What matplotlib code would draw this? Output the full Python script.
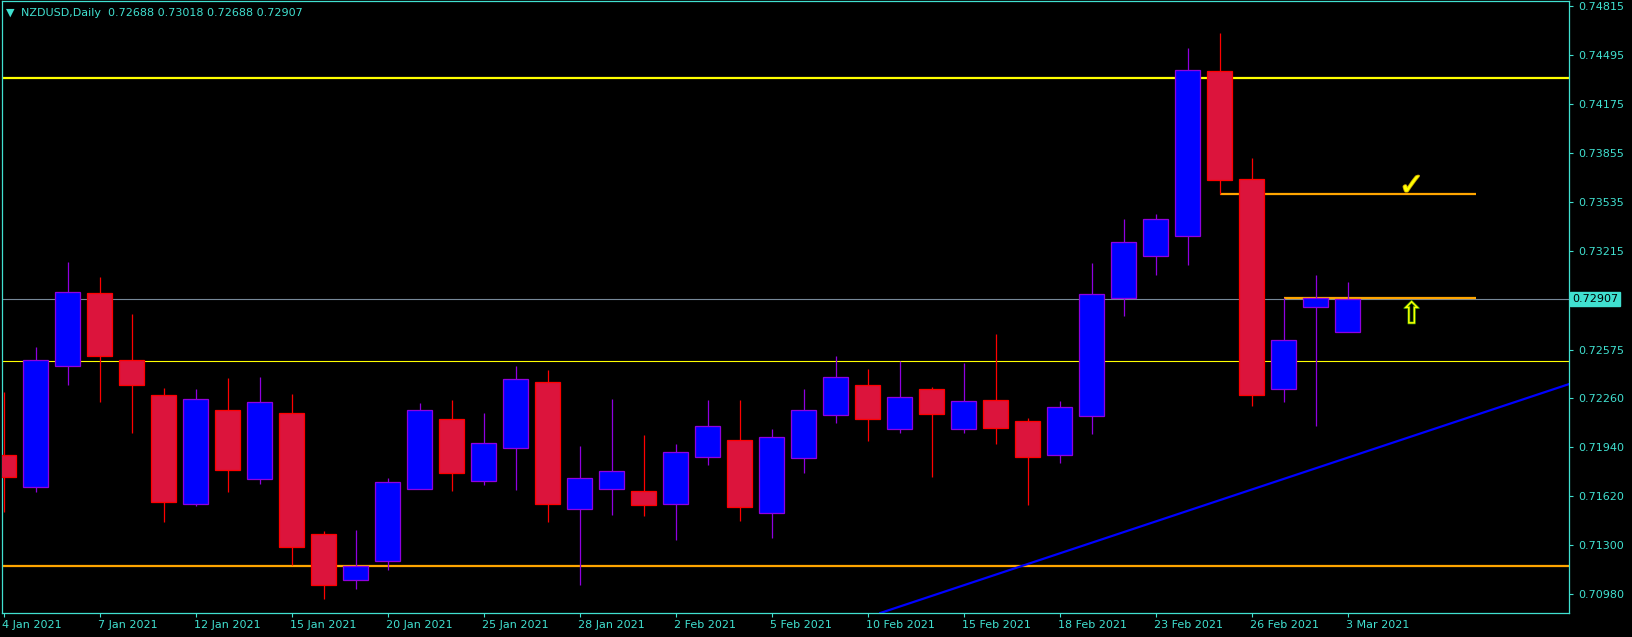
import matplotlib
matplotlib.use('Agg')
import matplotlib.pyplot as plt
import matplotlib.transforms as mtransforms
import matplotlib.patheffects as pe

# ---------------- data ----------------
dates = ['4 Jan 2021', '5 Jan 2021', '6 Jan 2021', '7 Jan 2021', '8 Jan 2021',
         '11 Jan 2021', '12 Jan 2021', '13 Jan 2021', '14 Jan 2021', '15 Jan 2021',
         '18 Jan 2021', '19 Jan 2021', '20 Jan 2021', '21 Jan 2021', '22 Jan 2021',
         '25 Jan 2021', '26 Jan 2021', '27 Jan 2021', '28 Jan 2021', '29 Jan 2021',
         '1 Feb 2021', '2 Feb 2021', '3 Feb 2021', '4 Feb 2021', '5 Feb 2021',
         '8 Feb 2021', '9 Feb 2021', '10 Feb 2021', '11 Feb 2021', '12 Feb 2021',
         '15 Feb 2021', '16 Feb 2021', '17 Feb 2021', '18 Feb 2021', '19 Feb 2021',
         '22 Feb 2021', '23 Feb 2021', '24 Feb 2021', '25 Feb 2021', '26 Feb 2021',
         '1 Mar 2021', '2 Mar 2021', '3 Mar 2021']

opens = [0.71888, 0.71681, 0.72466, 0.72942, 0.72505, 0.72277, 0.71567, 0.72179,
         0.71734, 0.72160, 0.71371, 0.71071, 0.71195, 0.71668, 0.72121, 0.71720,
         0.71936, 0.72362, 0.71538, 0.71668, 0.71651, 0.71567, 0.71873, 0.71984,
         0.71508, 0.71866, 0.72151, 0.72342, 0.72056, 0.72316, 0.72056, 0.72245,
         0.72108, 0.71890, 0.72144, 0.72910, 0.73183, 0.73314, 0.74389, 0.73685,
         0.72320, 0.72855, 0.72688]
highs = [0.72301, 0.72592, 0.73146, 0.73048, 0.72807, 0.72325, 0.72318, 0.72390,
         0.72397, 0.72286, 0.71393, 0.71399, 0.71738, 0.72227, 0.72247, 0.72162,
         0.72468, 0.72442, 0.71947, 0.72253, 0.72018, 0.71960, 0.72247, 0.72247,
         0.72058, 0.72318, 0.72533, 0.72449, 0.72501, 0.72331, 0.72488, 0.72677,
         0.72129, 0.72240, 0.73140, 0.73427, 0.73459, 0.74541, 0.74639, 0.73824,
         0.72913, 0.73061, 0.73018]
lows = [0.71518, 0.71649, 0.72346, 0.72236, 0.72033, 0.71453, 0.71558, 0.71649,
        0.71701, 0.71171, 0.70949, 0.71015, 0.71138, 0.71665, 0.71653, 0.71692,
        0.71660, 0.71451, 0.71041, 0.71497, 0.71490, 0.71334, 0.71823, 0.71458,
        0.71347, 0.71771, 0.72097, 0.71979, 0.72031, 0.71745, 0.72031, 0.71960,
        0.71562, 0.71836, 0.72027, 0.72796, 0.73061, 0.73127, 0.73591, 0.72207,
        0.72234, 0.72077, 0.72688]
closes = [0.71747, 0.72505, 0.72949, 0.72535, 0.72346, 0.71584, 0.72251, 0.71792,
          0.72232, 0.71290, 0.71043, 0.71164, 0.71710, 0.72179, 0.71773, 0.71964,
          0.72381, 0.71571, 0.71736, 0.71782, 0.71564, 0.71906, 0.72075, 0.71551,
          0.72003, 0.72179, 0.72394, 0.72125, 0.72264, 0.72157, 0.72238, 0.72066,
          0.71877, 0.72199, 0.72936, 0.73275, 0.73425, 0.74396, 0.73683, 0.72281,
          0.72636, 0.72913, 0.72907]

x_tick_labels = ['4 Jan 2021', '7 Jan 2021', '12 Jan 2021', '15 Jan 2021', '20 Jan 2021',
                 '25 Jan 2021', '28 Jan 2021', '2 Feb 2021', '5 Feb 2021', '10 Feb 2021',
                 '15 Feb 2021', '18 Feb 2021', '23 Feb 2021', '26 Feb 2021', '3 Mar 2021']
y_tick_values = [0.74815, 0.74495, 0.74175, 0.73855, 0.73535, 0.73215,
                 0.72575, 0.72260, 0.71940, 0.71620, 0.71300, 0.70980]

symbol = 'NZDUSD,Daily'
last_price = 0.72907
resistance_top = 0.74348
level_mid = 0.72500
support_low = 0.71164
seg_upper = 0.73591
seg_lower = 0.72913
trend_x = [27.4, 48.9]
trend_y = [0.70858, 0.72349]

# ---------------- style ----------------
BG = '#000000'
FG = '#40E0D0'
BULL_FILL = '#0000FF'
BULL_EDGE = '#9000E0'
BEAR_FILL = '#DC143C'
BEAR_EDGE = '#FF0000'

W, H = 1633, 637
fig = plt.figure(figsize=(W / 100, H / 100), dpi=100, facecolor=BG)
ax = fig.add_axes([2 / W, (H - 613) / H, (1569 - 2) / W, (613 - 1) / H])
ax.set_facecolor(BG)

n = len(dates)
xs = list(range(n))

# horizontal levels (behind candles)
ax.axhline(resistance_top, color='#FFFF00', lw=1.6, zorder=1)
ax.axhline(level_mid, color='#FFFF00', lw=0.8, zorder=1)
ax.axhline(support_low, color='#FFA500', lw=1.6, zorder=1)
ax.axhline(last_price, color='#778899', lw=0.8, zorder=1)
ax.plot([38, 46], [seg_upper, seg_upper], color='#FFA500', lw=1.6, zorder=1,
        solid_capstyle='butt')
ax.plot([40, 46], [seg_lower, seg_lower], color='#FFA500', lw=1.6, zorder=1.5,
        solid_capstyle='butt')
ax.plot(trend_x, trend_y, color='#0000FF', lw=1.6, zorder=1)

# candles
for i in xs:
    o, h, l, c = opens[i], highs[i], lows[i], closes[i]
    bull = c >= o
    edge = BULL_EDGE if bull else BEAR_EDGE
    fill = BULL_FILL if bull else BEAR_FILL
    ax.vlines(i, l, h, colors=edge, lw=0.9, zorder=2)
    ax.bar(i, abs(c - o), bottom=min(o, c), width=0.76, color=fill,
           edgecolor=edge, linewidth=0.9, zorder=3)

# annotation marks
ax.text(44.0, 0.73640, '\u2713', color='#FFFF00', fontsize=22, ha='center',
        va='center', fontweight='bold', zorder=4,
        path_effects=[pe.withStroke(linewidth=1.2, foreground='#C8A000')])
ax.text(44.0, 0.72800, '\u21e7', color='#FFFF00', fontsize=22, ha='center',
        va='center', zorder=4,
        path_effects=[pe.withStroke(linewidth=1.0, foreground='#2E8B00')])

# axes limits
ax.set_xlim(-0.047, 48.92)
ax.set_ylim(0.70858, 0.74848)

# spines
for s in ax.spines.values():
    s.set_color(FG)
    s.set_linewidth(0.9)

# ticks
ax.yaxis.tick_right()
ax.set_yticks(y_tick_values)
ax.set_yticklabels([f'{v:.5f}' for v in y_tick_values])
ax.tick_params(axis='y', colors=FG, labelcolor=FG, length=3, width=0.8,
               pad=3.5, labelsize=8, direction='out')

tick_pos = [dates.index(t) for t in x_tick_labels]
ax.set_xticks(tick_pos)
ax.set_xticklabels(x_tick_labels, ha='left')
ax.tick_params(axis='x', colors=FG, labelcolor=FG, length=3, width=0.8,
               pad=2, labelsize=8, direction='out')
for lbl in ax.get_xticklabels():
    lbl.set_horizontalalignment('left')
    lbl.set_transform(lbl.get_transform() + mtransforms.ScaledTranslation(-2 / 100, 0, fig.dpi_scale_trans))

# current price label box
trans = mtransforms.blended_transform_factory(ax.transAxes, ax.transData)
ax.text(1.0 + 3 / (1567), last_price, f'{last_price:.5f}', transform=trans,
        ha='left', va='center', fontsize=8, color='#000000', zorder=5,
        clip_on=False,
        bbox=dict(boxstyle='square,pad=0.18', facecolor=FG, edgecolor=FG))

# header
fig.text(6 / W, 1 - 12.5 / H, '\u25bc', color=FG, fontsize=8, ha='left', va='center')
fig.text(21 / W, 1 - 12.5 / H,
         f'{symbol}  {opens[-1]:.5f} {highs[-1]:.5f} {lows[-1]:.5f} {closes[-1]:.5f}',
         color=FG, fontsize=8, ha='left', va='center')

fig.savefig('out.png', dpi=100, facecolor=BG)
